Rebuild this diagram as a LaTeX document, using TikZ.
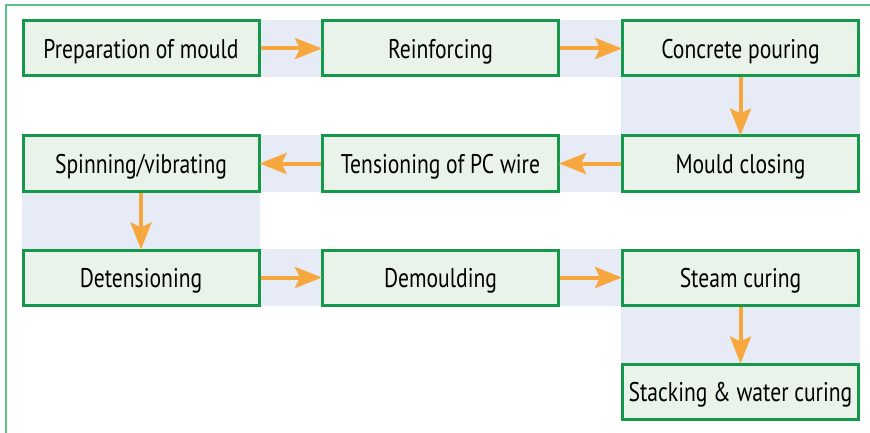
\documentclass[tikz,border=0pt]{standalone}
\usepackage{fontspec}
\setmainfont{PT Sans}[FakeStretch=0.8]
\usetikzlibrary{arrows.meta}
\definecolor{boxfill}{HTML}{EAF3EA}
\definecolor{boxline}{HTML}{14994A}
\definecolor{band}{HTML}{E7EBF6}
\definecolor{arr}{HTML}{F6A83E}
\definecolor{frame}{HTML}{5CC08A}
\tikzset{
  stepbox/.style={draw=boxline, line width=3pt, fill=boxfill, minimum width=236pt, minimum height=55pt, inner sep=0pt, text height=20pt, text depth=0pt, font=\fontsize{27}{31}\selectfont, text=black},
  flow/.style={draw=arr, line width=4pt, -{Stealth[length=27pt,width=21pt,inset=5pt]}, shorten >=-1pt},
  bandfill/.style={fill=band, draw=none}
}
\begin{document}
\begin{tikzpicture}[x=1pt,y=-1pt]
\useasboundingbox (0,0) rectangle (870,433);
\fill[white] (0,0) rectangle (870,433);
% frame
\draw[frame, line width=2pt] (5.5,433) -- (5.5,5) -- (870,5);
% bands
\fill[band] (22,20) rectangle (860,77);
\fill[band] (621,77) rectangle (860,135);
\fill[band] (22,135) rectangle (860,192);
\fill[band] (22,192) rectangle (260,249);
\fill[band] (22,249) rectangle (860,306);
\fill[band] (621,306) rectangle (860,363);
% boxes
\node[stepbox] (a1) at (141,48.5) {Preparation of mould};
\node[stepbox] (a2) at (440.5,48.5) {Reinforcing};
\node[stepbox] (a3) at (740.5,48.5) {Concrete pouring};
\node[stepbox] (b3) at (740.5,163.5) {Mould closing};
\node[stepbox] (b2) at (440.5,163.5) {Tensioning of PC wire};
\node[stepbox] (b1) at (141,163.5) {Spinning/vibrating};
\node[stepbox] (c1) at (141,277.5) {Detensioning};
\node[stepbox] (c2) at (440.5,277.5) {Demoulding};
\node[stepbox] (c3) at (740.5,277.5) {Steam curing};
\node[stepbox] (d3) at (740.5,391.5) {Stacking \& water curing};
% arrows
\draw[flow] (a1) -- (a2);
\draw[flow] (a2) -- (a3);
\draw[flow] (a3) -- (b3);
\draw[flow] (b3) -- (b2);
\draw[flow] (b2) -- (b1);
\draw[flow] (b1) -- (c1);
\draw[flow] (c1) -- (c2);
\draw[flow] (c2) -- (c3);
\draw[flow] (c3) -- (d3);
\end{tikzpicture}
\end{document}
